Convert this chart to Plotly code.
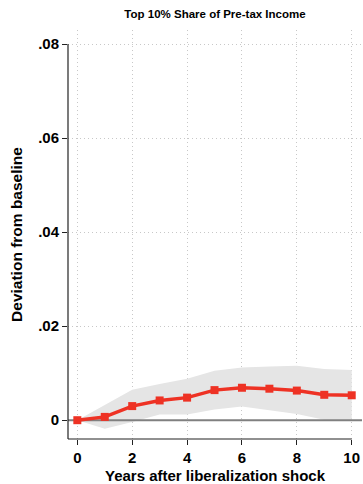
import plotly.graph_objects as go

years = [0, 1, 2, 3, 4, 5, 6, 7, 8, 9, 10]
estimate = [0.0, 0.0007, 0.0030, 0.0042, 0.0048, 0.0064, 0.0069, 0.0067, 0.0063, 0.0054, 0.0053]
ci_upper = [0.0, 0.0033, 0.0065, 0.0077, 0.0088, 0.0105, 0.0112, 0.0114, 0.0116, 0.0109, 0.0107]
ci_lower = [0.0, -0.0018, -0.0004, 0.0012, 0.0012, 0.0023, 0.0029, 0.0021, 0.0013, 0.0001, 0.0]

y_ticks = [0, 0.02, 0.04, 0.06, 0.08]
y_tick_labels = ["0", ".02", ".04", ".06", ".08"]
x_ticks = [0, 2, 4, 6, 8, 10]

x_range = [-0.34, 10.375]
y_range = [-0.004, 0.083]

font_family = "Liberation Sans, Arial, sans-serif"

fig = go.Figure()

# Confidence band
fig.add_trace(go.Scatter(
    x=years, y=ci_upper, mode="lines", line=dict(width=0, color="#e5e5e5"),
    hoverinfo="skip", showlegend=False,
))
fig.add_trace(go.Scatter(
    x=years, y=ci_lower, mode="lines", line=dict(width=0, color="#e5e5e5"),
    fill="tonexty", fillcolor="#e5e5e5", hoverinfo="skip", showlegend=False,
))

# Zero reference line
fig.add_trace(go.Scatter(
    x=x_range, y=[0, 0], mode="lines", line=dict(color="#808080", width=2),
    hoverinfo="skip", showlegend=False,
))

# Point estimates
fig.add_trace(go.Scatter(
    x=years, y=estimate, mode="lines+markers",
    line=dict(color="#ee3224", width=3.5),
    marker=dict(symbol="square", size=8, color="#ee3224"),
    showlegend=False,
))

axis_color = "#222222"
shapes = [
    # left axis line, spanning the tick range
    dict(type="line", xref="x domain", yref="y", x0=0, x1=0, y0=y_range[0], y1=0.08,
         line=dict(color=axis_color, width=1.2)),
    # bottom axis line
    dict(type="line", xref="x", yref="y domain", x0=x_range[0], x1=10, y0=0, y1=0,
         line=dict(color=axis_color, width=1.2)),
]

fig.update_layout(
    width=363, height=484,
    margin=dict(l=68, r=1, t=30, b=45),
    paper_bgcolor="white", plot_bgcolor="white",
    title=dict(text="<b>Top 10% Share of Pre-tax Income</b>", x=(68 + 362) / 2 / 363,
               xanchor="center", y=1 - 14 / 484, yanchor="middle",
               font=dict(family=font_family, size=11.5, color="black")),
    shapes=shapes,
    font=dict(family=font_family, color="black"),
)

grid_style = dict(showgrid=True, gridcolor="#c8c8c8", griddash="1px,3px", gridwidth=1)

fig.update_xaxes(
    range=x_range, tickvals=x_ticks, ticktext=[f"<b>{v}</b>" for v in x_ticks],
    tickfont=dict(size=15, color="black"), ticks="outside", ticklen=5,
    tickcolor=axis_color, showline=False, zeroline=False, **grid_style,
    title=dict(text="<b>Years after liberalization shock</b>", font=dict(size=15, color="black"),
               standoff=6),
)
fig.update_yaxes(
    range=y_range, tickvals=y_ticks, ticktext=[f"<b>{t}</b>" for t in y_tick_labels],
    tickfont=dict(size=15, color="black"), ticks="outside", ticklen=5,
    tickcolor=axis_color, showline=False, zeroline=False, **grid_style,
    title=dict(text="<b>Deviation from baseline</b>", font=dict(size=15.5, color="black"),
               standoff=11),
)

fig.write_html("out.html")
